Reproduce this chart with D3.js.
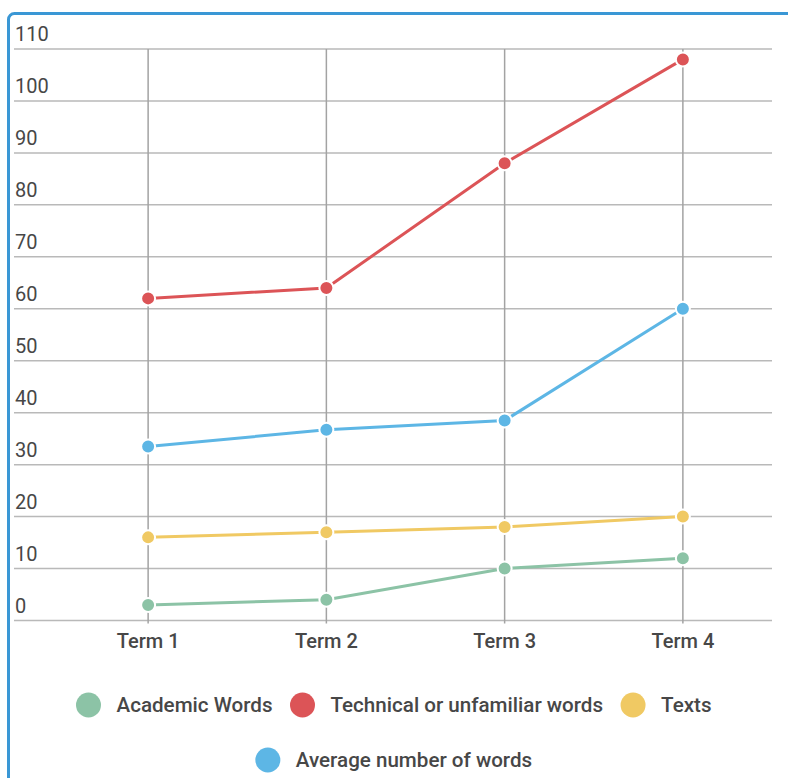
<!DOCTYPE html>
<html>
<head>
<meta charset="utf-8">
<script src="https://cdn.jsdelivr.net/npm/d3@7/dist/d3.min.js"></script>
<style>
  html, body { margin: 0; padding: 0; background: #fff; overflow: hidden; }
  svg { display: block; font-family: Roboto, "Noto Sans", sans-serif; }
</style>
</head>
<body>
<svg id="chart" width="788" height="778"></svg>
<script>
const categories = ["Term 1", "Term 2", "Term 3", "Term 4"];
const seriesNames = ["Academic Words", "Technical or unfamiliar words", "Texts", "Average number of words"];
const academicWords = [3, 4, 10, 12];
const technicalWords = [62, 64, 88, 108];
const texts = [16, 17, 18, 20];
const averageWords = [33.5, 36.7, 38.5, 60];
const seriesColors = ["#8cc3a6", "#dc5457", "#f0c963", "#5db6e5"];
const yTicks = [0, 10, 20, 30, 40, 50, 60, 70, 80, 90, 100, 110];

const seriesValues = [academicWords, technicalWords, texts, averageWords];
const series = seriesNames.map((name, i) => ({
  name, color: seriesColors[i],
  values: categories.map((c, j) => ({ cat: c, value: seriesValues[i][j] }))
}));

const svg = d3.select("#chart");

// frame
svg.append("rect")
  .attr("x", 8.5).attr("y", 13.5)
  .attr("width", 820).attr("height", 820)
  .attr("rx", 6).attr("ry", 6)
  .attr("fill", "none")
  .attr("stroke", "#3a97d5")
  .attr("stroke-width", 3);

const x = d3.scalePoint().domain(categories).range([59, 772]).padding(0.5);
const y = d3.scaleLinear().domain([0, 110]).range([620.5, 49]);

const gridLeft = 14, gridRight = 772;
const textColor = "#474747";

// horizontal grid + y labels
const yg = svg.append("g");
yg.selectAll("line").data(yTicks).join("line")
  .attr("x1", gridLeft).attr("x2", gridRight)
  .attr("y1", d => y(d)).attr("y2", d => y(d))
  .attr("stroke", "#b9b9b9").attr("stroke-width", 1.5);
yg.selectAll("text").data(yTicks).join("text")
  .attr("x", 15).attr("y", d => y(d) - 8)
  .attr("fill", textColor)
  .attr("font-size", 20)
  .text(d => d);

// vertical grid
svg.append("g").selectAll("line").data(categories).join("line")
  .attr("x1", d => x(d)).attr("x2", d => x(d))
  .attr("y1", y(110)).attr("y2", y(0) + 3)
  .attr("stroke", "#a3a3a3").attr("stroke-width", 1.5);

// x labels
svg.append("g").selectAll("text").data(categories).join("text")
  .attr("x", d => x(d)).attr("y", 648)
  .attr("text-anchor", "middle")
  .attr("fill", textColor)
  .attr("font-size", 20)
  .attr("font-weight", 500)
  .text(d => d);

// lines
const line = d3.line().x(d => x(d.cat)).y(d => y(d.value));
const sg = svg.append("g").selectAll("g").data(series).join("g");
sg.append("path")
  .attr("d", d => line(d.values))
  .attr("fill", "none")
  .attr("stroke", d => d.color)
  .attr("stroke-width", 3);
sg.selectAll("circle").data(d => d.values.map(v => ({ ...v, color: d.color }))).join("circle")
  .attr("cx", d => x(d.cat)).attr("cy", d => y(d.value))
  .attr("r", 7)
  .attr("fill", d => d.color)
  .attr("stroke", "#fff").attr("stroke-width", 2);

// legend (centered, wrapping)
const legend = svg.append("g");
const items = legend.selectAll("g").data(series).join("g");
items.append("circle").attr("r", 12.5).attr("fill", d => d.color);
items.append("text")
  .attr("x", 28).attr("y", 7)
  .attr("fill", textColor)
  .attr("font-size", 20.6)
  .attr("font-weight", 500)
  .text(d => d.name);

const gap = 18, maxW = 700, rowH = 55, firstRowY = 705, centerX = 394;
const itemWidths = [];
items.each(function() {
  const t = d3.select(this).select("text").node().getComputedTextLength();
  itemWidths.push(12 + 28 + t); // from circle left edge to text end
});
const rows = [];
let cur = [], curW = 0;
itemWidths.forEach((w, i) => {
  const add = cur.length ? gap + w : w;
  if (cur.length && curW + add > maxW) { rows.push(cur); cur = []; curW = 0; }
  curW += cur.length ? gap + w : w;
  cur.push(i);
});
if (cur.length) rows.push(cur);
rows.forEach((row, r) => {
  const total = row.reduce((s, i, k) => s + itemWidths[i] + (k ? gap : 0), 0);
  let xs = centerX - total / 2;
  row.forEach(i => {
    d3.select(items.nodes()[i]).attr("transform", `translate(${xs + 12},${firstRowY + r * rowH})`);
    xs += itemWidths[i] + gap;
  });
});
</script>
</body>
</html>
